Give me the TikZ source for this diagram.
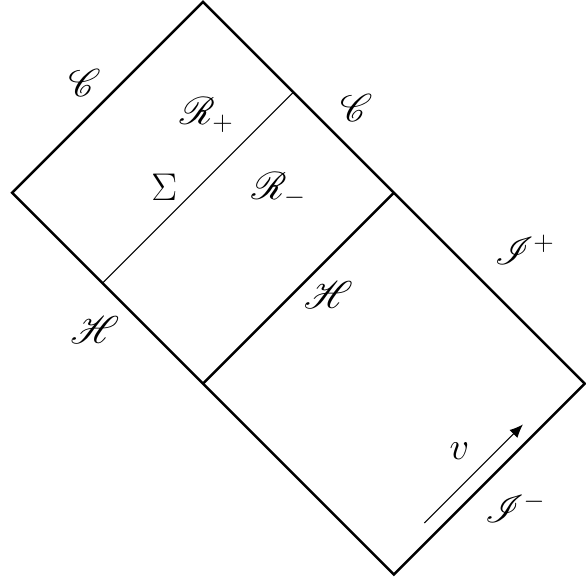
\documentclass[tikz,border=0pt]{standalone}
\usepackage{amsmath}
\usepackage{mathrsfs}
\usetikzlibrary{arrows.meta}
\begin{document}
\begin{tikzpicture}[edge/.style={line width=1.1pt, line join=miter},
    slice/.style={line width=0.5pt},
    lbl/.style={font=\LARGE, inner sep=1pt}]
  \useasboundingbox (-0.19,-6.15) rectangle (9.02,3.03);
  % corners of the two diamonds
  \coordinate (L)  at (0,0);
  \coordinate (T)  at (3,3);
  \coordinate (RM) at (6,0);
  \coordinate (R)  at (9,-3);
  \coordinate (B)  at (6,-6);
  \coordinate (BM) at (3,-3);
  % outline and horizon
  \draw[edge] (L) -- (T) -- (RM) -- (R) -- (B) -- (BM) -- cycle;
  \draw[edge] (BM) -- (RM);
  % the slice Sigma
  \coordinate (S0) at (1.42,-1.42);
  \coordinate (S1) at (4.42,1.58);
  \draw[slice] (S0) -- (S1);
  % labels
  \node[lbl] (Cl)  at (1.14,1.72)  {$\mathscr{C}$};
  \node[lbl] (Cr)  at (5.41,1.34)  {$\mathscr{C}$};
  \node[lbl] (Rp)  at (3.06,1.22)  {$\mathscr{R}_+$};
  \node[lbl] (Sig) at (2.39,0.09)  {$\Sigma$};
  \node[lbl] (Rm)  at (4.19,0.05)  {$\mathscr{R}_-$};
  \node[lbl] (Ip)  at (8.06,-0.89) {$\mathscr{I}^+$};
  \node[lbl] (Hl)  at (1.30,-2.16) {$\mathscr{H}$};
  \node[lbl] (Hm)  at (4.97,-1.61) {$\mathscr{H}$};
  \node[lbl] (Im)  at (7.91,-4.95) {$\mathscr{I}^-$};
  \node[lbl] (v)   at (7.03,-4.06) {$v$};
  % direction of v
  \coordinate (v0) at (6.48,-5.19);
  \coordinate (v1) at (8.03,-3.64);
  \draw[slice, -{Latex[length=6pt,width=5pt]}] (v0) -- (v1);
\end{tikzpicture}
\end{document}
